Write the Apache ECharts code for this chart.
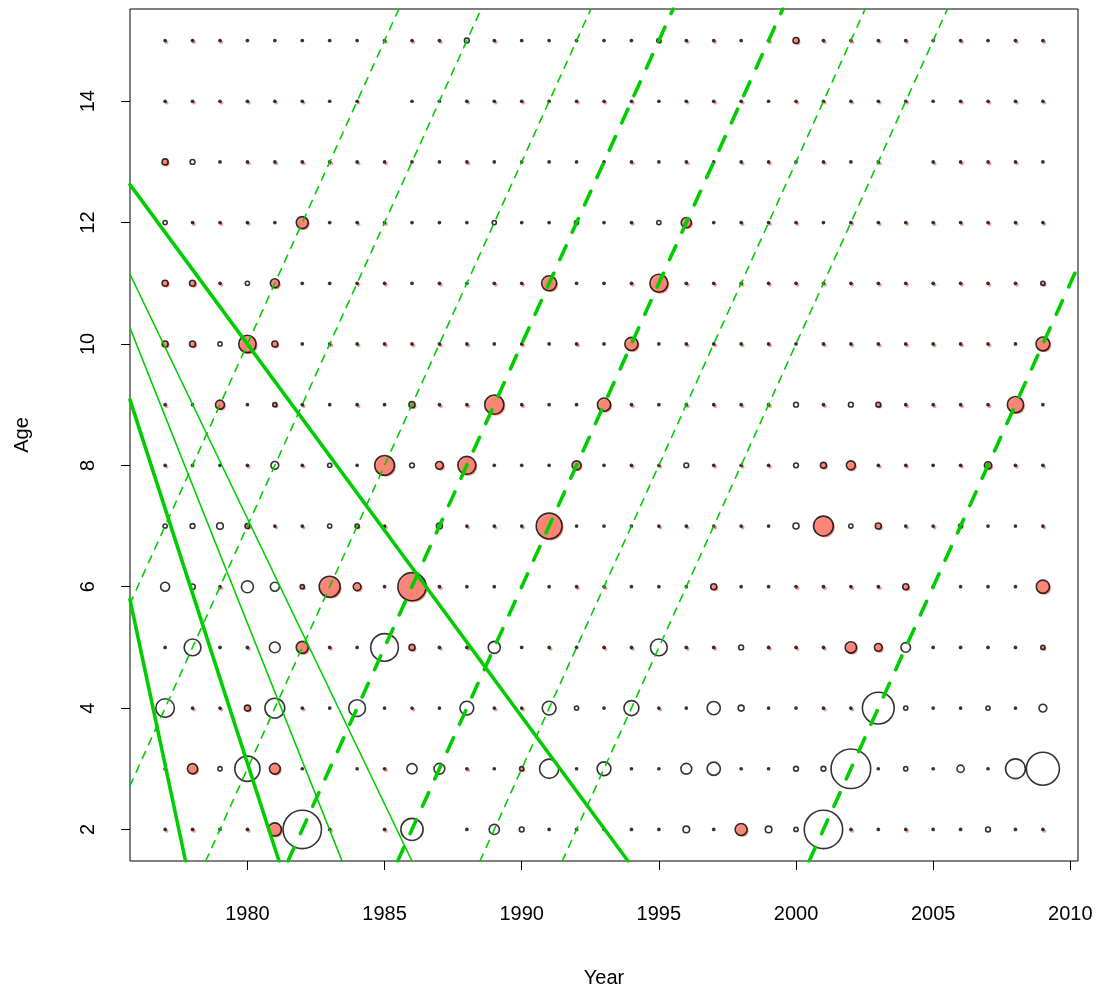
<!DOCTYPE html>
<html>
<head>
<meta charset="utf-8">
<script src="https://cdn.jsdelivr.net/npm/echarts@6/dist/echarts.min.js"></script>
<style>
  html, body { margin: 0; padding: 0; background: #ffffff; }
  #chart { width: 1110px; height: 995px; }
</style>
</head>
<body>
<div id="chart"></div>
<script>
// ---- data -------------------------------------------------------------
const years = [1977, 1978, 1979, 1980, 1981, 1982, 1983, 1984, 1985, 1986, 1987,
  1988, 1989, 1990, 1991, 1992, 1993, 1994, 1995, 1996, 1997, 1998, 1999, 2000,
  2001, 2002, 2003, 2004, 2005, 2006, 2007, 2008, 2009];
const ages = [2, 3, 4, 5, 6, 7, 8, 9, 10, 11, 12, 13, 14, 15];
const xTicks = [1980, 1985, 1990, 1995, 2000, 2005, 2010];
const yTicks = [2, 4, 6, 8, 10, 12, 14];

// residuals by age, one value per year (null = no value)
const res2  = [0.1, 0.1, -0.1, 0.1, 1.1, -3.2, 0.1, null, 0.1, -1.85, null, -0.1, -0.85, -0.4, -0.1, -0.1, -0.1, -0.1, -0.1, -0.55, -0.1, 1.0, -0.55, -0.35, -3.2, 0.1, -0.1, 0.1, -0.1, -0.1, -0.4, -0.1, 0.1];
const res3  = [0.1, 0.85, -0.35, -2.1, 0.9, -0.1, -0.1, -0.1, 0.1, -0.85, -0.9, 0.1, -0.1, 0.35, -1.6, -0.1, -1.15, -0.1, -0.1, -0.9, -1.1, -0.1, -0.1, -0.4, -0.4, -3.3, -0.1, -0.35, -0.1, -0.6, -0.1, -1.65, -2.75];
const res4  = [-1.55, 0.1, 0.1, 0.5, -1.65, 0.1, -0.1, -1.4, -0.1, 0.1, -0.1, -1.15, 0.1, 0.1, -1.15, -0.35, -0.1, -1.25, 0.1, -0.1, -1.1, -0.5, -0.1, -0.1, 0.1, 0.1, -2.65, -0.35, -0.1, -0.1, -0.35, -0.1, -0.65];
const res5  = [-0.1, -1.4, -0.1, 0.1, -0.9, 1.0, 0.1, -0.1, -2.3, 0.5, 0.1, 0.1, -1.0, -0.1, 0.1, -0.1, 0.1, 0.1, -1.4, 0.1, 0.1, -0.4, 0.1, 0.1, 0.1, 0.95, 0.65, -0.8, -0.1, -0.1, -0.1, -0.1, 0.35];
const res6  = [-0.75, -0.45, 0.1, -1.0, -0.75, 0.35, 1.75, 0.65, -0.1, 2.35, 0.1, -0.1, -0.1, -0.1, -0.1, 0.1, 0.1, -0.1, -0.1, -0.1, 0.5, -0.1, -0.1, 0.1, 0.1, 0.1, 0.1, 0.5, -0.1, -0.1, -0.1, -0.1, 1.1];
const res7  = [-0.35, -0.4, -0.55, 0.4, 0.1, 0.1, -0.35, 0.35, 0.1, null, -0.5, 0.1, 0.1, 0.1, 2.15, -0.1, -0.1, -0.1, 0.1, 0.1, 0.1, 0.1, -0.1, -0.5, 1.65, -0.35, 0.5, 0.1, 0.1, -0.35, -0.1, -0.1, 0.1];
const res8  = [0.1, -0.1, -0.1, 0.1, -0.65, 0.1, -0.35, -0.1, 1.65, -0.4, 0.65, 1.5, -0.1, -0.1, -0.1, 0.75, -0.1, 0.1, 0.1, -0.4, 0.1, 0.1, 0.1, -0.4, 0.5, 0.75, 0.1, 0.1, -0.1, 0.1, 0.6, 0.1, 0.1];
const res9  = [0.1, -0.1, 0.75, -0.1, 0.35, 0.1, -0.1, 0.1, -0.1, 0.5, 0.1, 0.1, 1.6, 0.1, -0.1, -0.1, 1.1, 0.1, -0.1, 0.1, 0.1, 0.1, 0.1, -0.4, 0.1, -0.4, 0.4, 0.1, 0.1, 0.1, 0.1, 1.35, -0.1];
const res10 = [0.5, 0.5, -0.35, 1.45, 0.5, -0.1, 0.1, 0.1, 0.1, 0.1, 0.1, 0.1, -0.1, 0.1, -0.1, 0.1, -0.1, 1.1, -0.1, 0.1, 0.1, 0.1, 0.1, -0.1, 0.1, 0.1, 0.1, 0.1, 0.1, 0.1, 0.1, -0.1, 1.15];
const res11 = [0.5, 0.5, 0.1, -0.35, 0.75, -0.1, -0.1, 0.1, 0.1, -0.1, 0.1, -0.1, 0.1, 0.1, 1.25, -0.1, -0.1, 0.1, 1.5, 0.1, 0.1, 0.1, 0.1, 0.1, 0.1, 0.1, 0.1, 0.1, 0.1, 0.1, 0.1, 0.1, 0.35];
const res12 = [-0.35, 0.1, 0.1, 0.1, -0.1, 1.0, -0.1, 0.1, 0.1, -0.1, -0.1, -0.1, -0.35, -0.1, -0.1, -0.35, -0.1, 0.1, -0.35, 0.85, -0.1, 0.1, 0.1, 0.1, -0.1, 0.1, 0.1, 0.1, 0.1, 0.1, 0.1, 0.1, 0.1];
const res13 = [0.5, -0.4, -0.1, 0.1, 0.1, 0.1, 0.1, 0.1, 0.1, -0.1, -0.1, 0.1, -0.1, -0.1, -0.1, -0.1, -0.1, 0.1, -0.1, 0.1, -0.1, 0.1, 0.1, -0.1, 0.1, -0.1, 0.1, null, 0.1, 0.1, 0.1, 0.1, -0.1];
const res14 = [0.1, 0.1, 0.1, 0.1, 0.1, 0.1, -0.1, 0.1, null, -0.1, -0.1, 0.1, 0.1, 0.1, -0.1, 0.1, 0.1, 0.1, -0.1, 0.1, 0.1, 0.1, -0.1, 0.1, 0.1, 0.1, 0.1, 0.1, -0.1, 0.1, 0.1, 0.1, 0.1];
const res15 = [0.1, 0.1, 0.1, -0.1, -0.1, -0.1, -0.1, -0.1, 0.1, 0.1, 0.1, -0.4, 0.1, -0.1, -0.1, -0.1, -0.1, -0.1, 0.35, 0.1, 0.1, -0.1, 0.1, 0.5, 0.1, 0.1, 0.1, 0.1, -0.1, 0.1, -0.1, 0.1, 0.1];
const residualsByAge = [res2, res3, res4, res5, res6, res7, res8, res9, res10, res11, res12, res13, res14, res15];

// cohort lines: age = year - birthYear
const cohortsThick = [1980, 1984, 1999];
const cohortsThin = [1970, 1973, 1977, 1987, 1990];
// fan of solid lines from one point, given by the year where each reaches age 1.47
const fanOrigin = [1971.2, 15.4];
const fanThickEnds = [1993.89, 1981.16, 1977.75];
const fanThinEnds = [1986.01, 1983.46];

// ---- drawing ----------------------------------------------------------
const X_MIN = 1975.72, X_MAX = 2010.28, Y_MIN = 1.48, Y_MAX = 15.52;
const SALMON = '#FA8072';
const GREEN = '#00CD00';
const FONT = '"Liberation Sans", Arial, Helvetica, sans-serif';

function bubbleSize(v) { return Math.max(3.7, 12 * Math.abs(v)); }

const points = [];
residualsByAge.forEach(function (row, ai) {
  row.forEach(function (v, yi) {
    if (v === null) return;
    points.push([years[yi], ages[ai], v]);
  });
});

const mainData = points.map(function (p) {
  const v = p[2];
  const tiny = bubbleSize(v) <= 3.8;
  return {
    value: p,
    itemStyle: tiny
      ? { color: '#000000', borderWidth: 0 }
      : { color: v > 0 ? SALMON : 'rgba(0,0,0,0)', borderColor: '#000000', borderWidth: 1.6 }
  };
});
const shadowData = points.filter(function (p) { return p[2] > 0; });

// clip a segment to the plotting box (Liang-Barsky), left end first
function clipToBox(p, q) {
  let t0 = 0, t1 = 1;
  const dx = q[0] - p[0], dy = q[1] - p[1];
  const checks = [[-dx, p[0] - X_MIN], [dx, X_MAX - p[0]], [-dy, p[1] - Y_MIN], [dy, Y_MAX - p[1]]];
  for (const [pp, qq] of checks) {
    if (pp === 0) { if (qq < 0) return null; continue; }
    const r = qq / pp;
    if (pp < 0) { if (r > t1) return null; if (r > t0) t0 = r; }
    else { if (r < t0) return null; if (r < t1) t1 = r; }
  }
  const a = [p[0] + t0 * dx, p[1] + t0 * dy];
  const b = [p[0] + t1 * dx, p[1] + t1 * dy];
  return a[0] <= b[0] ? [a, b] : [b, a];
}

function lineSeries(seg, width, dash) {
  return {
    type: 'line',
    data: seg,
    showSymbol: false,
    symbol: 'none',
    silent: true,
    z: 5,
    lineStyle: { color: GREEN, width: width, type: dash || 'solid', cap: 'round' }
  };
}

const lines = [];
cohortsThick.forEach(function (c) {
  const seg = clipToBox([c + 0.5, 0.5], [c + 17, 17]);
  if (seg) lines.push(lineSeries(seg, 3.6, [15, 15]));
});
cohortsThin.forEach(function (c) {
  const seg = clipToBox([c + 0.5, 0.5], [c + 17, 17]);
  if (seg) lines.push(lineSeries(seg, 1.6, [7.5, 7.5]));
});
function fanSegment(endYear) {
  const k = 1.3; // run a little past the bottom edge before clipping
  const end = [fanOrigin[0] + k * (endYear - fanOrigin[0]), fanOrigin[1] + k * (1.47 - fanOrigin[1])];
  return clipToBox(fanOrigin, end);
}
fanThickEnds.forEach(function (e) { const s = fanSegment(e); if (s) lines.push(lineSeries(s, 3.6)); });
fanThinEnds.forEach(function (e) { const s = fanSegment(e); if (s) lines.push(lineSeries(s, 1.6)); });

const plainNumber = function (v) { return String(v); };

const chart = echarts.init(document.getElementById('chart'), null, { renderer: 'canvas' });
chart.setOption({
  animation: false,
  backgroundColor: '#ffffff',
  grid: {
    left: 130, top: 9, right: 32, bottom: 134,
    show: true, borderColor: '#000000', borderWidth: 1, backgroundColor: 'rgba(0,0,0,0)'
  },
  xAxis: {
    type: 'value', min: X_MIN, max: X_MAX,
    axisLine: { show: false, onZero: false },
    splitLine: { show: false },
    axisTick: { show: true, inside: false, length: 9, customValues: xTicks, lineStyle: { color: '#000', width: 1 } },
    axisLabel: { customValues: xTicks, formatter: plainNumber, margin: 43, fontSize: 20, color: '#000', fontFamily: FONT }
  },
  yAxis: {
    type: 'value', min: Y_MIN, max: Y_MAX,
    axisLine: { show: false, onZero: false },
    splitLine: { show: false },
    axisTick: { show: true, inside: false, length: 9, customValues: yTicks, lineStyle: { color: '#000', width: 1 } },
    axisLabel: { customValues: yTicks, formatter: plainNumber, margin: 32, rotate: 90, fontSize: 20, color: '#000', fontFamily: FONT }
  },
  graphic: [
    { type: 'text', x: 604, y: 978, style: { text: 'Year', fontSize: 20, fontFamily: FONT, fill: '#000', align: 'center', verticalAlign: 'middle' } },
    { type: 'text', x: 22, y: 435, rotation: Math.PI / 2, style: { text: 'Age', fontSize: 20, fontFamily: FONT, fill: '#000', align: 'center', verticalAlign: 'middle' } }
  ],
  series: [
    {
      type: 'scatter', data: shadowData, silent: true, z: 1,
      symbolOffset: [1.5, 1.5],
      symbolSize: function (val) { return bubbleSize(val[2]); },
      itemStyle: { color: SALMON, borderWidth: 0 }
    },
    {
      type: 'scatter', data: mainData, silent: true, z: 2,
      symbolSize: function (val) { return bubbleSize(val[2]); }
    }
  ].concat(lines)
});
</script>
</body>
</html>
